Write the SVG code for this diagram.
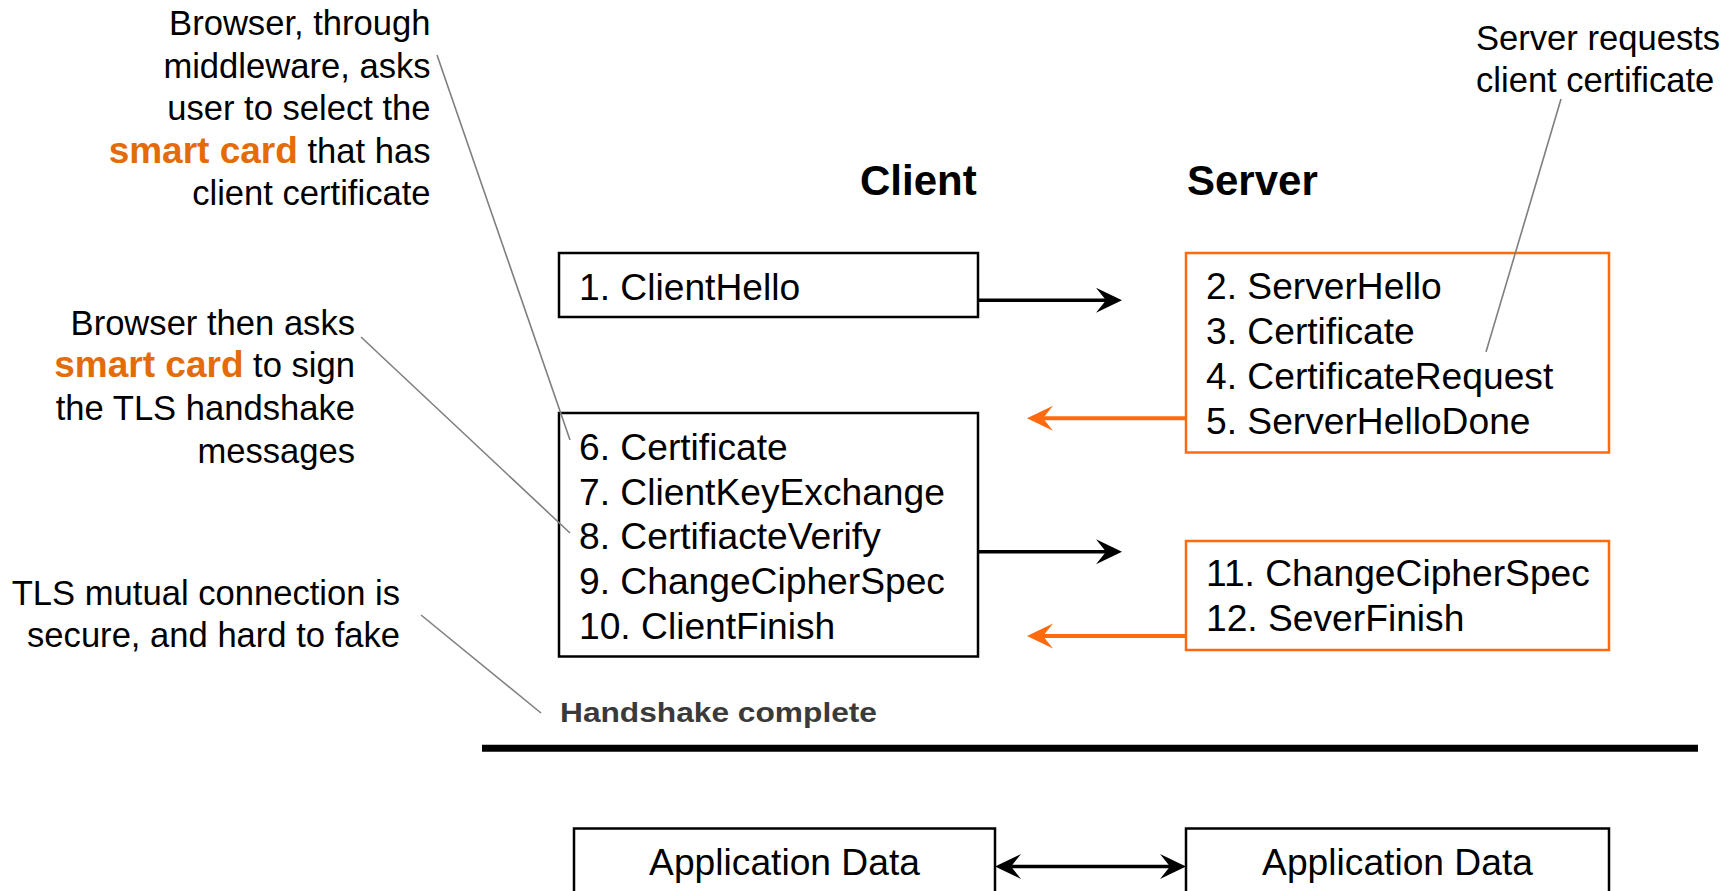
<svg xmlns="http://www.w3.org/2000/svg" width="1731" height="891" viewBox="0 0 1731 891">
  <style>
    text { font-family: "Liberation Sans", Arial, sans-serif; fill: #000; }
    .msg { font-size: 37.2px; }
    .hdr { font-size: 42px; font-weight: bold; }
    .note { font-size: 34.6px; }
    .note-r { text-anchor: end; }
    .hl { font-weight: bold; font-size: 37px; fill: #E36C09; }
    .done { font-size: 28px; font-weight: bold; fill: #3A3A3A; }
    .box { fill: #fff; stroke: #000; stroke-width: 2.5; }
    .sbox { fill: #fff; stroke: #FF6A0E; stroke-width: 2.5; }
    .leader { stroke: #7F7F7F; stroke-width: 1.6; fill: none; }
    .flow { stroke: #000; stroke-width: 3.5; fill: none; }
    .flow-o { stroke: #FF6A0E; stroke-width: 4; fill: none; }
  </style>
  <defs>
    <marker id="head-k" viewBox="0 0 26 26" refX="10" refY="13" markerWidth="26" markerHeight="26" markerUnits="userSpaceOnUse" orient="auto-start-reverse">
      <path d="M26,13 L0,0.5 L10,13 L0,25.5 Z" fill="#000"/>
    </marker>
    <marker id="head-o" viewBox="0 0 26 26" refX="10" refY="13" markerWidth="26" markerHeight="26" markerUnits="userSpaceOnUse" orient="auto-start-reverse">
      <path d="M26,13 L0,0.5 L10,13 L0,25.5 Z" fill="#FF6A0E"/>
    </marker>
  </defs>

  <rect width="1731" height="891" fill="#fff"/>

  <!-- column headers -->
  <g id="hdr-client"><text class="hdr" x="860" y="195">Client</text></g>
  <g id="hdr-server"><text class="hdr" x="1187" y="195">Server</text></g>

  <!-- client messages -->
  <g id="client-hello">
    <rect class="box" x="559" y="253" width="419" height="64"/>
    <text class="msg" x="579" y="299.5">1. ClientHello</text>
  </g>
  <g id="client-keys">
    <rect class="box" x="559" y="413" width="419" height="243.5"/>
    <text class="msg" x="579" y="460">6. Certificate</text>
    <text class="msg" x="579" y="504.7">7. ClientKeyExchange</text>
    <text class="msg" x="579" y="549.4">8. CertifiacteVerify</text>
    <text class="msg" x="579" y="594">9. ChangeCipherSpec</text>
    <text class="msg" x="579" y="638.7">10. ClientFinish</text>
  </g>

  <!-- server messages -->
  <g id="server-hello">
    <rect class="sbox" x="1186" y="253" width="423" height="199.5"/>
    <text class="msg" x="1206" y="299.3">2. ServerHello</text>
    <text class="msg" x="1206" y="344.2">3. Certificate</text>
    <text class="msg" x="1206" y="389.1">4. CertificateRequest</text>
    <text class="msg" x="1206" y="434">5. ServerHelloDone</text>
  </g>
  <g id="server-finish">
    <rect class="sbox" x="1186" y="541" width="423" height="109"/>
    <text class="msg" x="1206" y="586">11. ChangeCipherSpec</text>
    <text class="msg" x="1206" y="631">12. SeverFinish</text>
  </g>

  <!-- handshake boundary -->
  <g id="handshake-done">
    <text class="done" x="560" y="721.5" textLength="317" lengthAdjust="spacingAndGlyphs">Handshake complete</text>
    <line x1="482" y1="748.3" x2="1698" y2="748.3" stroke="#000" stroke-width="7"/>
  </g>

  <!-- application data -->
  <g id="app-client">
    <rect class="box" x="574" y="828.5" width="421" height="80"/>
    <text class="msg" x="784.5" y="875" text-anchor="middle">Application Data</text>
  </g>
  <g id="app-server">
    <rect class="box" x="1186" y="828.5" width="423" height="80"/>
    <text class="msg" x="1397.5" y="875" text-anchor="middle">Application Data</text>
  </g>

  <!-- notes -->
  <g id="note-select">
    <text class="note note-r" x="430.5" y="35">Browser, through</text>
    <text class="note note-r" x="430.5" y="77.5">middleware, asks</text>
    <text class="note note-r" x="430.5" y="119.5">user to select the</text>
    <text class="note note-r" x="430.5" y="162.5"><tspan class="hl">smart card</tspan> that has</text>
    <text class="note note-r" x="430.5" y="204.5">client certificate</text>
  </g>
  <g id="note-sign">
    <text class="note note-r" x="355" y="334.5">Browser then asks</text>
    <text class="note note-r" x="355" y="377"><tspan class="hl">smart card</tspan> to sign</text>
    <text class="note note-r" x="355" y="420">the TLS handshake</text>
    <text class="note note-r" x="355" y="462.5">messages</text>
  </g>
  <g id="note-secure">
    <text class="note note-r" x="400" y="605">TLS mutual connection is</text>
    <text class="note note-r" x="400" y="647">secure, and hard to fake</text>
  </g>
  <g id="note-request">
    <text class="note" x="1476" y="50">Server requests</text>
    <text class="note" x="1476" y="92">client certificate</text>
  </g>

  <!-- connectors -->
  <g id="connectors">
    <line class="leader" x1="437" y1="55" x2="570" y2="440"/>
    <line class="leader" x1="361" y1="337" x2="570" y2="533"/>
    <line class="leader" x1="421" y1="615" x2="541" y2="713"/>
    <line class="leader" x1="1561" y1="99" x2="1486" y2="352"/>

    <line class="flow" x1="978" y1="300.3" x2="1106" y2="300.3" marker-end="url(#head-k)"/>
    <line class="flow-o" x1="1186" y1="418.3" x2="1043" y2="418.3" marker-end="url(#head-o)"/>
    <line class="flow" x1="978" y1="551.7" x2="1106" y2="551.7" marker-end="url(#head-k)"/>
    <line class="flow-o" x1="1186" y1="636" x2="1043" y2="636" marker-end="url(#head-o)"/>
    <line class="flow" x1="1011" y1="866.5" x2="1170" y2="866.5" marker-start="url(#head-k)" marker-end="url(#head-k)"/>
  </g>
</svg>
